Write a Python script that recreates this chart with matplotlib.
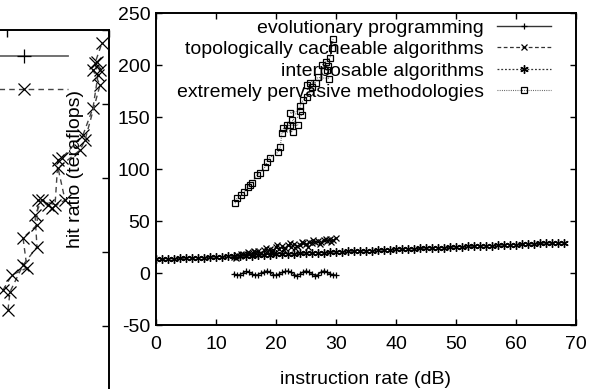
import matplotlib
matplotlib.use("Agg")
import matplotlib.pyplot as plt
from matplotlib.lines import Line2D

plt.rcParams['font.family'] = ['Liberation Sans', 'DejaVu Sans']
plt.rcParams['axes.unicode_minus'] = False

# ---------------- data: right (main) chart ----------------
x_evo = [13, 13.5, 14, 14.5, 15, 15.5, 16, 16.5, 17, 17.5, 18, 18.5, 19, 19.5,
         20, 20.5, 21, 21.5, 22, 22.5, 23, 23.5, 24, 24.5, 25, 25.5, 26, 26.5,
         27, 27.5, 28, 28.5, 29, 29.5, 30]
y_evo = [-1, -2, -1.5, 0, 1.5, 1, -1, -2, -1.5, 0, 1, 2, 0.5, -1.5,
         -2, -1, 0.5, 1.5, 2, 0.5, -1.5, -2.5, -1, 1, 2, 1, -1, -2.5,
         -1.5, 1, 2, 1, -1, -1.5, -2]

x_topo = [13, 13.3, 13.5, 14, 14.2, 14.5, 15, 15.4, 15.5, 16, 16.3, 16.5, 17, 17.2,
          17.5, 18, 18.4, 18.5, 19, 19.3, 19.5, 20, 20.2, 20.5, 21, 21.4, 21.5,
          22, 22.3, 22.5, 23, 23.2, 23.5, 24, 24.4, 24.5, 25, 25.3, 25.5, 26,
          26.2, 26.5, 27, 27.4, 27.5, 28, 28.3, 28.5, 29, 29.2, 29.5, 30]
y_topo = [15, 14, 17, 16, 18, 18, 17, 20, 19, 18, 21, 20, 21, 18,
          19, 22, 24, 21, 23, 20, 22, 25, 27, 23, 26, 22, 24, 27, 29, 25,
          28, 24, 26, 27, 30, 29, 28, 25, 30, 29, 32, 30, 31, 28, 30, 32,
          33, 31, 33, 30, 32, 34]

x_inter = list(range(0, 69))
y_inter = [13.0, 13.2, 13.5, 13.7, 14.0, 14.2, 14.4, 14.7, 14.9, 15.2,
           15.4, 15.6, 15.9, 16.1, 16.4, 16.6, 16.8, 17.1, 17.3, 17.6,
           17.8, 18.0, 18.3, 18.5, 18.8, 19.0, 19.2, 19.5, 19.7, 20.0,
           20.2, 20.4, 20.7, 20.9, 21.2, 21.4, 21.6, 21.9, 22.1, 22.4,
           22.6, 22.8, 23.1, 23.3, 23.6, 23.8, 24.0, 24.3, 24.5, 24.8,
           25.0, 25.2, 25.5, 25.7, 26.0, 26.2, 26.4, 26.7, 26.9, 27.2,
           27.4, 27.6, 27.9, 28.1, 28.4, 28.6, 28.8, 29.1, 29.3]

x_perv = [13.2, 13.5, 14.2, 14.7, 15.3, 15.7, 16.0, 16.8, 17.3, 18.2,
          18.5, 19.0, 20.3, 20.7, 21.0, 22.8, 21.2, 22.3, 21.8, 23.7,
          22.7, 24.3, 22.3, 24.0, 24.0, 24.5, 25.2, 26.0, 25.2, 26.7,
          25.7, 27.0, 28.8, 28.5, 28.7, 27.7, 28.3, 29.0, 29.3, 29.5]
y_perv = [67, 72, 75, 78, 83, 85, 87, 94, 96, 102,
          107, 111, 116, 121, 135, 136, 139, 142, 142, 142,
          147, 152, 154, 156, 161, 166, 169, 179, 181, 183,
          183, 188, 187, 195, 199, 200, 203, 207, 216, 225]

labels = ["evolutionary programming", "topologically cacheable algorithms",
          "interposable algorithms", "extremely pervasive methodologies"]
x_ticks = [0, 10, 20, 30, 40, 50, 60, 70]
y_ticks = [-50, 0, 50, 100, 150, 200, 250]

# ---------------- data: partially visible background chart ----------------
bx1 = [20.10, 20.29, 21.57, 22.94, 22.75, 23.43, 24.71, 25.00, 25.39, 27.45,
       28.43, 28.92, 28.63, 29.31]
by1 = [60.8, 73.0, 91.2, 103.4, 125.0, 135.1, 131.8, 162.2, 163.5, 179.1,
       197.3, 219.6, 227.7, 241.2]
bx2 = [19.61, 20.49, 21.96, 21.57, 22.94, 23.04, 24.02, 24.41, 25.69, 25.00,
       27.16, 27.65, 29.12, 28.43, 29.12, 28.82]
by2 = [74.3, 84.5, 89.2, 109.5, 118.2, 135.1, 131.8, 129.7, 135.1, 156.8,
       168.9, 175.7, 212.8, 223.0, 223.0, 228.4]

W, H = 600, 389
fig = plt.figure(figsize=(W / 100, H / 100), dpi=100)

# ---------- background chart (cut off at left) ----------
L_left, L_right, L_top, L_bot = -197, 109, 30, 474
axL = fig.add_axes([L_left / W, 1 - L_bot / H, (L_right - L_left) / W, (L_bot - L_top) / H])
axL.set_xlim(0, 30)
axL.set_ylim(-50, 250)
axL.set_xticks([0, 10, 20, 30])
axL.set_yticks(y_ticks)
axL.tick_params(direction='in', length=5, width=1, top=True, right=True,
                labelleft=False, labelbottom=False)
for s in axL.spines.values():
    s.set_linewidth(1.4)
lb1, = axL.plot(bx1, by1, color='#444444', lw=1.0, dashes=(4, 3),
                marker='x', ms=9, mec='black', mew=0.9)
lb2, = axL.plot(bx2, by2, color='#444444', lw=1.0, dashes=(4, 3),
                marker='x', ms=9, mec='black', mew=0.9)
proxy_plus = Line2D([], [], color='#666666', lw=1.3, marker='+', ms=10, mec='black', mew=0.9)
legL = axL.legend([proxy_plus, lb1], ['', ''], loc='upper right',
                  bbox_to_anchor=(68 / W, 1 - 46 / H), bbox_transform=fig.transFigure,
                  frameon=False, markerfirst=False, fontsize=20, handlelength=3.2,
                  handletextpad=0.3, labelspacing=0.25, borderpad=0, borderaxespad=0)

# ---------- main chart ----------
R_left, R_right, R_top, R_bot = 156, 576, 13, 325
axR = fig.add_axes([R_left / W, 1 - R_bot / H, (R_right - R_left) / W, (R_bot - R_top) / H])
axR.set_xlim(0, 70)
axR.set_ylim(-50, 250)
axR.set_xticks(x_ticks)
axR.set_yticks(y_ticks)
axR.tick_params(direction='in', length=4.5, width=1, top=True, right=True, labelsize=14)
axR.tick_params(axis='x', pad=8)
axR.tick_params(axis='y', pad=4)
for s in axR.spines.values():
    s.set_linewidth(1.4)

axR.plot(x_evo, y_evo, color='#333333', lw=1.0, marker='+', ms=4.5, mec='black',
         mew=0.9, label=labels[0])
axR.plot(x_topo, y_topo, color='#333333', lw=0.9, dashes=(3, 2), marker='x', ms=4.5,
         mec='black', mew=0.9, label=labels[1])
axR.plot(x_inter, y_inter, color='#333333', lw=0.9, dashes=(1.5, 1.5), marker=(6, 2, 0),
         ms=6, mec='black', mew=1.0, label=labels[2])
axR.plot(x_perv, y_perv, color='#555555', lw=0.8, dashes=(0.8, 1.2), marker='s', ms=4.5,
         mfc='none', mec='black', mew=0.9, label=labels[3])

axR.set_xlabel("instruction rate (dB)", fontsize=14, labelpad=13)
axR.set_ylabel("hit ratio (teraflops)", fontsize=14)
axR.yaxis.set_label_coords((84 - R_left) / (R_right - R_left), 0.5)

legR = axR.legend(loc='upper right', bbox_to_anchor=(551 / W, 1 - 19 / H),
                  bbox_transform=fig.transFigure, frameon=False, markerfirst=False,
                  fontsize=14, handlelength=2.8, handletextpad=0.65,
                  labelspacing=0.2, borderpad=0, borderaxespad=0)
for col in legR._legend_handle_box.get_children():
    col.align = "right"

fig.savefig("out.png", dpi=100)
